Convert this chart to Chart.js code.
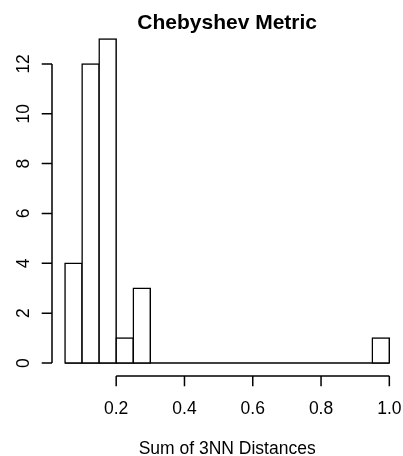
<!DOCTYPE html>
<html>
<head>
<meta charset="utf-8">
<script src="https://cdn.jsdelivr.net/npm/chart.js@4/dist/chart.umd.min.js"></script>
<style>
  html, body { margin: 0; padding: 0; background: #fff; }
  canvas { display: block; }
</style>
</head>
<body>
<canvas id="hist" width="403" height="456"></canvas>
<script>
// Histogram of summed 3-nearest-neighbour distances (Chebyshev metric)
const breaks = [0.05, 0.10, 0.15, 0.20, 0.25, 0.30, 0.35, 0.40, 0.45, 0.50,
                0.55, 0.60, 0.65, 0.70, 0.75, 0.80, 0.85, 0.90, 0.95, 1.00];
const counts = [4, 12, 13, 1, 3, 0, 0, 0, 0, 0, 0, 0, 0, 0, 0, 0, 0, 0, 1];
const xTicks = [0.2, 0.4, 0.6, 0.8, 1.0];
const xTickLabels = ['0.2', '0.4', '0.6', '0.8', '1.0'];
const yTicks = [0, 2, 4, 6, 8, 10, 12];
const yTickLabels = ['0', '2', '4', '6', '8', '10', '12'];
const titleText = 'Chebyshev Metric';
const xAxisTitle = 'Sum of 3NN Distances';

const FONT = '"Liberation Sans", Arial, Helvetica, sans-serif';
const LINE_W = 1.5;

// one bar per bin, centred between its two breaks
const bins = counts.map((c, i) => ({ x: (breaks[i] + breaks[i + 1]) / 2, y: c }));
// zero line under the whole set of bins
const baseline = [{ x: breaks[0], y: 0 }, { x: breaks[breaks.length - 1], y: 0 }];

// R-style range padding (4% each side)
const xSpan = breaks[breaks.length - 1] - breaks[0];
const yTop = Math.max(...counts);

const rAxes = {
  id: 'rAxes',
  afterDraw(chart) {
    const { ctx, chartArea, scales } = chart;
    const xs = scales.x, ys = scales.y;
    ctx.save();
    ctx.strokeStyle = '#000';
    ctx.fillStyle = '#000';
    ctx.lineWidth = LINE_W;
    ctx.lineCap = 'butt';
    const tickLen = 10.3;

    // x axis along the bottom edge of the plot region
    const ay = chartArea.bottom;
    ctx.beginPath();
    ctx.moveTo(xs.getPixelForValue(xTicks[0]), ay);
    ctx.lineTo(xs.getPixelForValue(xTicks[xTicks.length - 1]), ay);
    xTicks.forEach(v => {
      const px = xs.getPixelForValue(v);
      ctx.moveTo(px, ay);
      ctx.lineTo(px, ay + tickLen);
    });
    ctx.stroke();
    ctx.font = '17.5px ' + FONT;
    ctx.textAlign = 'center';
    ctx.textBaseline = 'alphabetic';
    xTicks.forEach((v, i) => {
      ctx.fillText(xTickLabels[i], xs.getPixelForValue(v), ay + 37.8);
    });

    // y axis along the left edge of the plot region
    const ax = chartArea.left;
    ctx.beginPath();
    ctx.moveTo(ax, ys.getPixelForValue(yTicks[0]));
    ctx.lineTo(ax, ys.getPixelForValue(yTicks[yTicks.length - 1]));
    yTicks.forEach(v => {
      const py = ys.getPixelForValue(v);
      ctx.moveTo(ax, py);
      ctx.lineTo(ax - tickLen, py);
    });
    ctx.stroke();
    yTicks.forEach((v, i) => {
      const py = ys.getPixelForValue(v);
      ctx.save();
      ctx.translate(ax - 22.7, py);
      ctx.rotate(-Math.PI / 2);
      ctx.fillText(yTickLabels[i], 0, 0);
      ctx.restore();
    });

    // axis title and main title
    ctx.fillText(xAxisTitle, (chartArea.left + chartArea.right) / 2, 454);
    ctx.font = 'bold 21px ' + FONT;
    ctx.fillText(titleText, (chartArea.left + chartArea.right) / 2, 29);
    ctx.restore();
  }
};

new Chart(document.getElementById('hist'), {
  type: 'bar',
  data: {
    datasets: [
      {
        type: 'line',
        data: baseline,
        borderColor: '#000',
        borderWidth: LINE_W,
        pointRadius: 0,
        fill: false,
        order: 2
      },
      {
        data: bins,
        backgroundColor: '#fff',
        borderColor: '#000',
        borderWidth: LINE_W,
        borderSkipped: false,
        inflateAmount: LINE_W / 2,
        barThickness: 'flex',
        barPercentage: 1,
        categoryPercentage: 1,
        order: 1
      }
    ]
  },
  options: {
    responsive: false,
    animation: false,
    devicePixelRatio: 1,
    layout: { padding: { left: 52, right: 0.7, top: 26, bottom: 80 } },
    plugins: { legend: { display: false }, tooltip: { enabled: false }, title: { display: false } },
    scales: {
      x: {
        type: 'linear',
        display: false,
        offset: false,
        bounds: 'data',
        min: breaks[0] - 0.04 * xSpan,
        max: breaks[breaks.length - 1] + 0.04 * xSpan
      },
      y: {
        type: 'linear',
        display: false,
        bounds: 'data',
        min: -0.04 * yTop,
        max: yTop * 1.04
      }
    }
  },
  plugins: [rAxes]
});
</script>
</body>
</html>
